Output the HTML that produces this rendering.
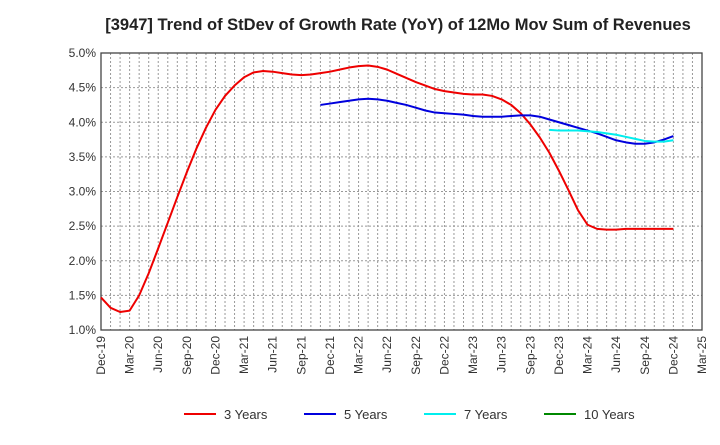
<!DOCTYPE html>
<html><head><meta charset="utf-8"><style>body{margin:0;background:#fff}svg text{font-family:"Liberation Sans",sans-serif}</style></head>
<body>
<svg id="c" width="720" height="440" xmlns="http://www.w3.org/2000/svg">
<text x="398" y="30" text-anchor="middle" font-size="16.5" font-weight="bold" fill="#222">[3947]  Trend of StDev of Growth Rate (YoY) of 12Mo Mov Sum of Revenues</text>
<g id="grid"></g><g id="axes"></g><g id="series"></g><g id="legend"></g>
</svg>
<script>
const xLabels=["Dec-19","Mar-20","Jun-20","Sep-20","Dec-20","Mar-21","Jun-21","Sep-21","Dec-21","Mar-22","Jun-22","Sep-22","Dec-22","Mar-23","Jun-23","Sep-23","Dec-23","Mar-24","Jun-24","Sep-24","Dec-24","Mar-25"];
const yTicks=[1.0,1.5,2.0,2.5,3.0,3.5,4.0,4.5,5.0];
const red=[1.47,1.32,1.26,1.28,1.50,1.82,2.18,2.55,2.92,3.28,3.62,3.92,4.18,4.38,4.53,4.65,4.72,4.74,4.73,4.71,4.69,4.68,4.69,4.71,4.73,4.76,4.79,4.81,4.82,4.80,4.76,4.70,4.64,4.58,4.53,4.48,4.45,4.43,4.41,4.40,4.40,4.38,4.33,4.25,4.13,3.97,3.78,3.56,3.30,3.02,2.73,2.52,2.46,2.45,2.45,2.46,2.46,2.46,2.46,2.46,2.46];
const blueStart=23;
const blue=[4.25,4.27,4.29,4.31,4.33,4.34,4.33,4.31,4.28,4.25,4.21,4.17,4.14,4.13,4.12,4.11,4.09,4.08,4.08,4.08,4.09,4.10,4.10,4.08,4.04,4.00,3.96,3.92,3.88,3.84,3.79,3.74,3.71,3.69,3.69,3.71,3.75,3.80];
const cyanStart=47;
const cyan=[3.89,3.88,3.88,3.88,3.87,3.86,3.84,3.82,3.79,3.76,3.73,3.72,3.72,3.74];
const L=101,R=702,T=53,B=330,NM=63;
const X=i=>L+i*(R-L)/NM, Y=v=>B-(v-1)*(B-T)/4;
const NS="http://www.w3.org/2000/svg";
function mk(p,t,a){const e=document.createElementNS(NS,t);for(const k in a)e.setAttribute(k,a[k]);p.appendChild(e);return e;}
const g=document.getElementById('grid'),ax=document.getElementById('axes'),s=document.getElementById('series'),lg=document.getElementById('legend');
for(let i=1;i<NM;i++){const l=mk(g,'line',{x1:X(i),x2:X(i),y1:T,y2:B,stroke:'#999','stroke-dasharray':'2,2','stroke-width':1});

}
yTicks.forEach(v=>{const l=mk(g,'line',{x1:L,x2:R,y1:Y(v),y2:Y(v),stroke:'#999','stroke-dasharray':'2,2','stroke-width':1});


const t=mk(ax,'text',{x:L-5,y:Y(v)+4,'text-anchor':'end','font-size':12,fill:'#333'});t.textContent=v.toFixed(1)+'%';

});
const fr=mk(ax,'rect',{x:L,y:T,width:R-L,height:B-T,fill:'none',stroke:'#444','stroke-width':1.3});


xLabels.forEach((lb,i)=>{const x=X(i*3);const t=mk(ax,'text',{x:x+4,y:B+6,'text-anchor':'end','font-size':12,fill:'#333',transform:`rotate(-90 ${x+4} ${B+6})`});t.textContent=lb;

});
function line(arr,st,col,name){const p=mk(s,'polyline',{points:arr.map((v,i)=>X(st+i)+','+Y(v)).join(' '),fill:'none',stroke:col,'stroke-width':2,'stroke-linejoin':'round'});

}
line(red,0,'#ee0000','line-3-years');line(blue,blueStart,'#0000dd','line-5-years');line(cyan,cyanStart,'#00eeee','line-7-years');
[["3 Years","#ee0000",184],["5 Years","#0000dd",304],["7 Years","#00eeee",424],["10 Years","#008800",544]].forEach(([n,c,x])=>{
const e=mk(lg,'g',{});


mk(e,'line',{x1:x,x2:x+32,y1:414,y2:414,stroke:c,'stroke-width':2});
const t=mk(e,'text',{x:x+40,y:419,'font-size':13,fill:'#333'});t.textContent=n;});
</script>
</body></html>
